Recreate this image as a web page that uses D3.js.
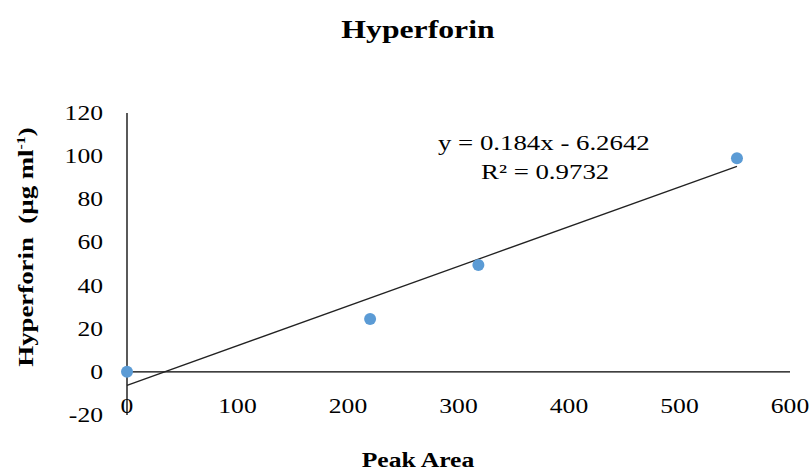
<!DOCTYPE html>
<html>
<head>
<meta charset="utf-8">
<script src="https://cdn.jsdelivr.net/npm/d3@7"></script>
<style>
  body { margin: 0; background: #fff; }
  text { font-family: "Liberation Serif", "Times New Roman", serif; fill: #000; }
</style>
</head>
<body>
<div id="chart"></div>
<script>
const peakArea = [0, 220, 318, 552];
const conc = [0, 24.5, 49.5, 99];
const xTicks = [0, 100, 200, 300, 400, 500, 600];
const yTicks = [-20, 0, 20, 40, 60, 80, 100, 120];
const slope = 0.184, intercept = -6.2642;

const width = 811, height = 472;
const stretch = 1.22; // reference text is a bit wider than the font

const svg = d3.select('#chart')
  .append('svg')
    .attr('width', width)
    .attr('height', height);

const x = d3.scaleLinear().domain([0, 600]).range([127, 790]);
const y = d3.scaleLinear().domain([-20, 120]).range([415, 113]);

const at = (px, py, rot = 0) => `translate(${px},${py}) rotate(${rot}) scale(${stretch},1)`;

// title
svg.append('text')
  .attr('transform', at(418, 38))
  .attr('text-anchor', 'middle')
  .style('font-size', '26px').style('font-weight', 'bold')
  .text('Hyperforin');

// axes lines
svg.append('line')
  .attr('x1', x(0)).attr('x2', x(0))
  .attr('y1', y(120)).attr('y2', y(-20))
  .attr('stroke', '#000').attr('stroke-width', 1.3);

svg.append('line')
  .attr('x1', x(0)).attr('x2', x(600))
  .attr('y1', y(0)).attr('y2', y(0))
  .attr('stroke', '#000').attr('stroke-width', 1.3);

// tick labels
svg.selectAll('.ytick')
  .data(yTicks)
  .enter().append('text')
    .attr('class', 'ytick')
    .attr('transform', d => at(103, y(d) + 7))
    .attr('text-anchor', 'end')
    .style('font-size', '21px')
    .text(d => d);

svg.selectAll('.xtick')
  .data(xTicks)
  .enter().append('text')
    .attr('class', 'xtick')
    .attr('transform', d => at(x(d), 413))
    .attr('text-anchor', 'middle')
    .style('font-size', '21px')
    .text(d => d);

// axis titles
svg.append('text')
  .attr('transform', at(33, 247, -90))
  .attr('text-anchor', 'middle')
  .style('font-size', '22px').style('font-weight', 'bold')
  .html('Hyperforin&#160;&#160;(µg ml<tspan dy="-8" style="font-size:13px">-1</tspan><tspan dy="8">)</tspan>');

svg.append('text')
  .attr('transform', at(418, 467))
  .attr('text-anchor', 'middle')
  .style('font-size', '21px').style('font-weight', 'bold')
  .text('Peak Area');

// trend line
const ext = d3.extent(peakArea);
svg.append('line')
  .attr('x1', x(ext[0])).attr('y1', y(slope * ext[0] + intercept))
  .attr('x2', x(ext[1])).attr('y2', y(slope * ext[1] + intercept))
  .attr('stroke', '#222').attr('stroke-width', 1.3);

// points
svg.selectAll('circle')
  .data(peakArea)
  .enter().append('circle')
    .attr('cx', d => x(d))
    .attr('cy', (d, i) => y(conc[i]))
    .attr('r', 6)
    .attr('fill', '#5b9bd5');

// equation
svg.append('text')
  .attr('transform', at(438, 150))
  .style('font-size', '22px')
  .text('y = 0.184x - 6.2642');
svg.append('text')
  .attr('transform', at(481, 179))
  .style('font-size', '22px')
  .text('R² = 0.9732');
</script>
</body>
</html>
